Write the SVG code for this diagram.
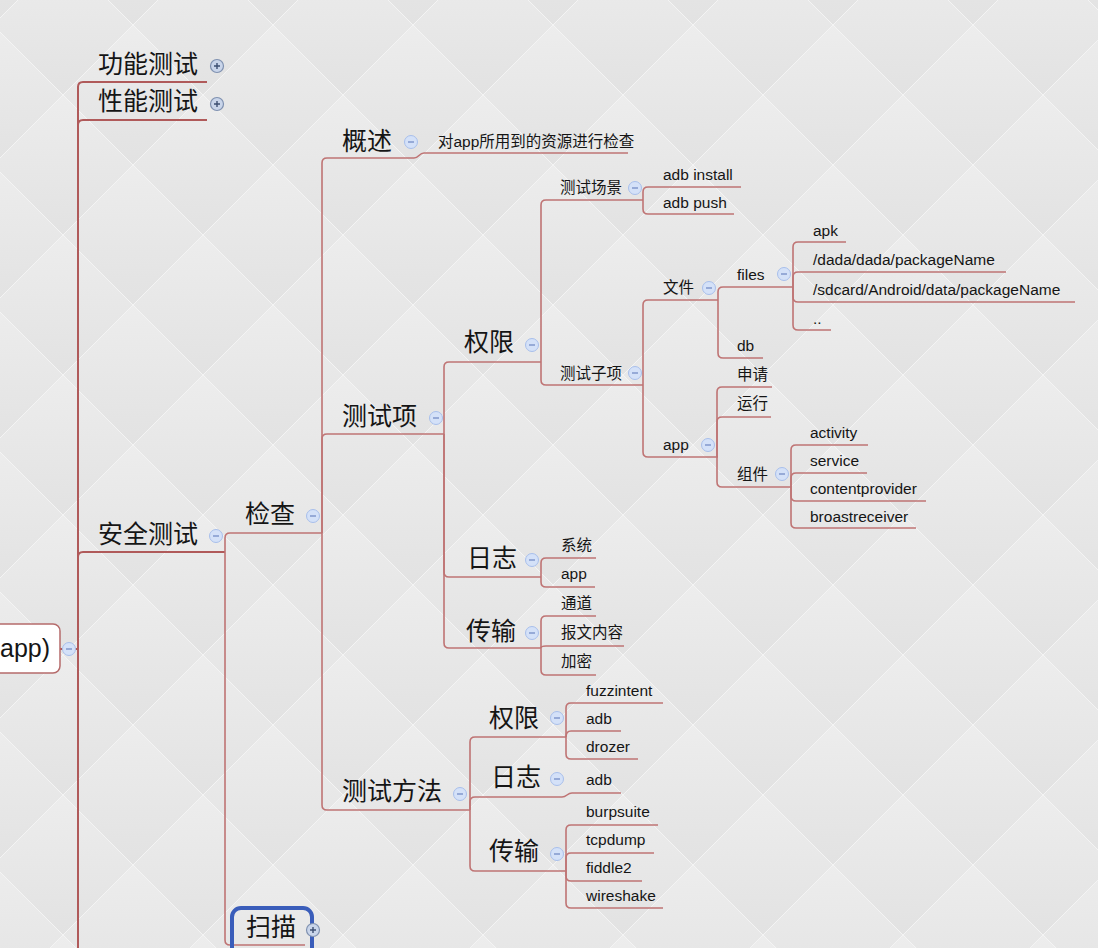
<svg xmlns="http://www.w3.org/2000/svg" xmlns:xlink="http://www.w3.org/1999/xlink" width="1098" height="948" viewBox="0 0 1098 948">
<style>
text{font-family:"Liberation Sans","Noto Sans CJK SC",sans-serif;fill:#151515}
.l{font-size:25px}
.s{font-size:15.5px}
.r{font-size:25px}
.c1{fill:none;stroke:#b05a5a;stroke-width:2}
.c{fill:none;stroke:#bf7474;stroke-width:1.6}
</style>
<defs>
<linearGradient id="dg" x1="0" y1="0" x2="0" y2="1">
<stop offset="0" stop-color="#ededed"/>
<stop offset="1" stop-color="#e2e2e2"/>
</linearGradient>
<pattern id="bg" patternUnits="userSpaceOnUse" x="63" y="95" width="140" height="140">
<rect width="140" height="140" fill="#e8e8e8"/>
<polygon points="70,-70 140,0 70,70 0,0" fill="url(#dg)"/>
<polygon points="70,70 140,140 70,210 0,140" fill="url(#dg)"/>
<polygon points="0,0 70,70 0,140 -70,70" fill="url(#dg)"/>
<polygon points="140,0 210,70 140,140 70,70" fill="url(#dg)"/>
<path d="M0,0 L140,140 M0,140 L140,0" stroke="#f4f4f4" stroke-width="1"/>
</pattern>
<g id="minus">
<circle r="6.5" fill="#d4e1f8" stroke="#a8bfeb" stroke-width="1"/>
<path d="M-3,0 H3" stroke="#7b93c9" stroke-width="1.4"/>
</g>
<g id="plus">
<circle r="6.5" fill="#c9d5ea" stroke="#7f91b0" stroke-width="1.2"/>
<path d="M-3,0 H3 M0,-3 V3" stroke="#3d4f72" stroke-width="1.4"/>
</g>
</defs>
<rect width="1098" height="948" fill="url(#bg)"/>

<g id="connectors">
<path class="c1" d="M60,649 H78"/>
<path class="c1" d="M78,948 V87 Q78,82 83,82 H207"/>
<path class="c1" d="M78,649 V125 Q78,120 83,120 H207"/>
<path class="c1" d="M78,649 V557 Q78,552 83,552 H225"/>
<path class="c" d="M225,552 V538 Q225,533 230,533 H322"/>
<path class="c" d="M225,552 V940 Q225,945 230,945 H305"/>
<path class="c" d="M322,533 V163 Q322,158 327,158 H414 C419,158 419,153 424,153 H628"/>
<path class="c" d="M322,533 V439 Q322,434 327,434 H444"/>
<path class="c" d="M322,533 V805 Q322,810 327,810 H470"/>
<path class="c" d="M444,434 V367 Q444,362 449,362 H541"/>
<path class="c" d="M444,434 V572 Q444,577 449,577 H541"/>
<path class="c" d="M444,434 V643 Q444,648 449,648 H541"/>
<path class="c" d="M541,362 V205 Q541,200 546,200 H643"/>
<path class="c" d="M541,362 V380 Q541,385 546,385 H643"/>
<path class="c" d="M643,200 V192 Q643,187 648,187 H741"/>
<path class="c" d="M643,200 V209 Q643,214 648,214 H734"/>
<path class="c" d="M643,385 V305 Q643,300 648,300 H718"/>
<path class="c" d="M643,385 V452 Q643,457 648,457 H718"/>
<path class="c" d="M718,300 V292 Q718,287 723,287 H793"/>
<path class="c" d="M718,300 V353 Q718,358 723,358 H763"/>
<path class="c" d="M793,287 V247 Q793,242 798,242 H846"/>
<path class="c" d="M793,287 V277 Q793,272 798,272 H1006"/>
<path class="c" d="M793,287 V297 Q793,302 798,302 H1075"/>
<path class="c" d="M793,287 V325 Q793,330 798,330 H831"/>
<path class="c" d="M717,457 V392 Q717,387 722,387 H772"/>
<path class="c" d="M717,457 V422 Q717,417 722,417 H771"/>
<path class="c" d="M717,457 V482 Q717,487 722,487 H791"/>
<path class="c" d="M791,487 V450 Q791,445 796,445 H868"/>
<path class="c" d="M791,487 V478 Q791,473 796,473 H867"/>
<path class="c" d="M791,487 V496 Q791,501 796,501 H926"/>
<path class="c" d="M791,487 V523 Q791,528 796,528 H916"/>
<path class="c" d="M541,577 V563 Q541,558 546,558 H596"/>
<path class="c" d="M541,577 V582 Q541,587 546,587 H595"/>
<path class="c" d="M541,648 V621 Q541,616 546,616 H596"/>
<path class="c" d="M541,648 Q541,646 546,646 H624"/>
<path class="c" d="M541,648 V670 Q541,675 546,675 H596"/>
<path class="c" d="M470,810 V742 Q470,737 475,737 H566"/>
<path class="c" d="M470,810 V802 Q470,797 475,797 H562 C567,797 567,793 572,793 H621"/>
<path class="c" d="M470,810 V866 Q470,871 475,871 H566"/>
<path class="c" d="M566,737 V708 Q566,703 571,703 H663"/>
<path class="c" d="M566,737 Q566,731 571,731 H621"/>
<path class="c" d="M566,737 V754 Q566,759 571,759 H638"/>
<path class="c" d="M566,871 V830 Q566,825 571,825 H658"/>
<path class="c" d="M566,871 V858 Q566,853 571,853 H654"/>
<path class="c" d="M566,871 V876 Q566,881 571,881 H642"/>
<path class="c" d="M566,871 V903 Q566,908 571,908 H663"/>
</g>

<g id="root">
<rect x="-12" y="624" width="72" height="49" rx="7" fill="#ffffff" stroke="#b56b6b" stroke-width="1.5"/>
<text class="r" x="0" y="657">app)</text>
<use xlink:href="#minus" x="69" y="649"/>
</g>
<g id="n-gongneng"><text class="l" x="98" y="73">功能测试</text><use xlink:href="#plus" x="217" y="66"/></g>
<g id="n-xingneng"><text class="l" x="98" y="110">性能测试</text><use xlink:href="#plus" x="217" y="104"/></g>
<g id="n-anquan"><text class="l" x="98" y="543">安全测试</text><use xlink:href="#minus" x="216" y="536"/></g>
<g id="n-jiancha"><text class="l" x="245" y="523">检查</text><use xlink:href="#minus" x="313" y="516"/></g>
<g id="n-saomiao">
<rect x="232" y="908" width="80" height="56" rx="9" fill="none" stroke="#3a5dba" stroke-width="4"/>
<text class="l" x="246" y="936">扫描</text>
<use xlink:href="#plus" x="313" y="930"/>
</g>
<g id="n-gaishu"><text class="l" x="342" y="150">概述</text><use xlink:href="#minus" x="411" y="142"/></g>
<g id="n-gaishu-1"><text class="s" x="438" y="147">对app所用到的资源进行检查</text></g>
<g id="n-ceshixiang"><text class="l" x="342" y="425">测试项</text><use xlink:href="#minus" x="436" y="418"/></g>
<g id="n-quanxian"><text class="l" x="464" y="351">权限</text><use xlink:href="#minus" x="532" y="345"/></g>
<g id="n-changjing"><text class="s" x="560" y="193">测试场景</text><use xlink:href="#minus" x="635" y="188"/></g>
<g id="n-adbinstall"><text class="s" x="663" y="180">adb install</text></g>
<g id="n-adbpush"><text class="s" x="663" y="208">adb push</text></g>
<g id="n-zixiang"><text class="s" x="560" y="379">测试子项</text><use xlink:href="#minus" x="635" y="373"/></g>
<g id="n-wenjian"><text class="s" x="663" y="293">文件</text><use xlink:href="#minus" x="709" y="288"/></g>
<g id="n-files"><text class="s" x="737" y="280">files</text><use xlink:href="#minus" x="784" y="274"/></g>
<g id="n-apk"><text class="s" x="813" y="236">apk</text></g>
<g id="n-dada"><text class="s" x="813" y="265">/dada/dada/packageName</text></g>
<g id="n-sdcard"><text class="s" x="813" y="295">/sdcard/Android/data/packageName</text></g>
<g id="n-dots"><text class="s" x="813" y="324">..</text></g>
<g id="n-db"><text class="s" x="737" y="351">db</text></g>
<g id="n-app"><text class="s" x="663" y="450">app</text><use xlink:href="#minus" x="708" y="445"/></g>
<g id="n-shenqing"><text class="s" x="737" y="380">申请</text></g>
<g id="n-yunxing"><text class="s" x="737" y="409">运行</text></g>
<g id="n-zujian"><text class="s" x="737" y="480">组件</text><use xlink:href="#minus" x="782" y="474"/></g>
<g id="n-activity"><text class="s" x="810" y="438">activity</text></g>
<g id="n-service"><text class="s" x="810" y="466">service</text></g>
<g id="n-contentprovider"><text class="s" x="810" y="494">contentprovider</text></g>
<g id="n-broastreceiver"><text class="s" x="810" y="522">broastreceiver</text></g>
<g id="n-rizhi"><text class="l" x="467" y="567">日志</text><use xlink:href="#minus" x="532" y="560"/></g>
<g id="n-xitong"><text class="s" x="561" y="551">系统</text></g>
<g id="n-rizhi-app"><text class="s" x="561" y="579">app</text></g>
<g id="n-chuanshu"><text class="l" x="466" y="640">传输</text><use xlink:href="#minus" x="532" y="633"/></g>
<g id="n-tongdao"><text class="s" x="561" y="609">通道</text></g>
<g id="n-baowen"><text class="s" x="561" y="638">报文内容</text></g>
<g id="n-jiami"><text class="s" x="561" y="667">加密</text></g>
<g id="n-fangfa"><text class="l" x="342" y="800">测试方法</text><use xlink:href="#minus" x="460" y="794"/></g>
<g id="n-m-quanxian"><text class="l" x="489" y="727">权限</text><use xlink:href="#minus" x="557" y="718"/></g>
<g id="n-fuzzintent"><text class="s" x="586" y="696">fuzzintent</text></g>
<g id="n-m-adb1"><text class="s" x="586" y="724">adb</text></g>
<g id="n-drozer"><text class="s" x="586" y="752">drozer</text></g>
<g id="n-m-rizhi"><text class="l" x="491" y="786">日志</text><use xlink:href="#minus" x="557" y="779"/></g>
<g id="n-m-adb2"><text class="s" x="586" y="785">adb</text></g>
<g id="n-m-chuanshu"><text class="l" x="489" y="860">传输</text><use xlink:href="#minus" x="557" y="854"/></g>
<g id="n-burpsuite"><text class="s" x="586" y="817">burpsuite</text></g>
<g id="n-tcpdump"><text class="s" x="586" y="845">tcpdump</text></g>
<g id="n-fiddle2"><text class="s" x="586" y="873">fiddle2</text></g>
<g id="n-wireshake"><text class="s" x="586" y="901">wireshake</text></g>
</svg>
